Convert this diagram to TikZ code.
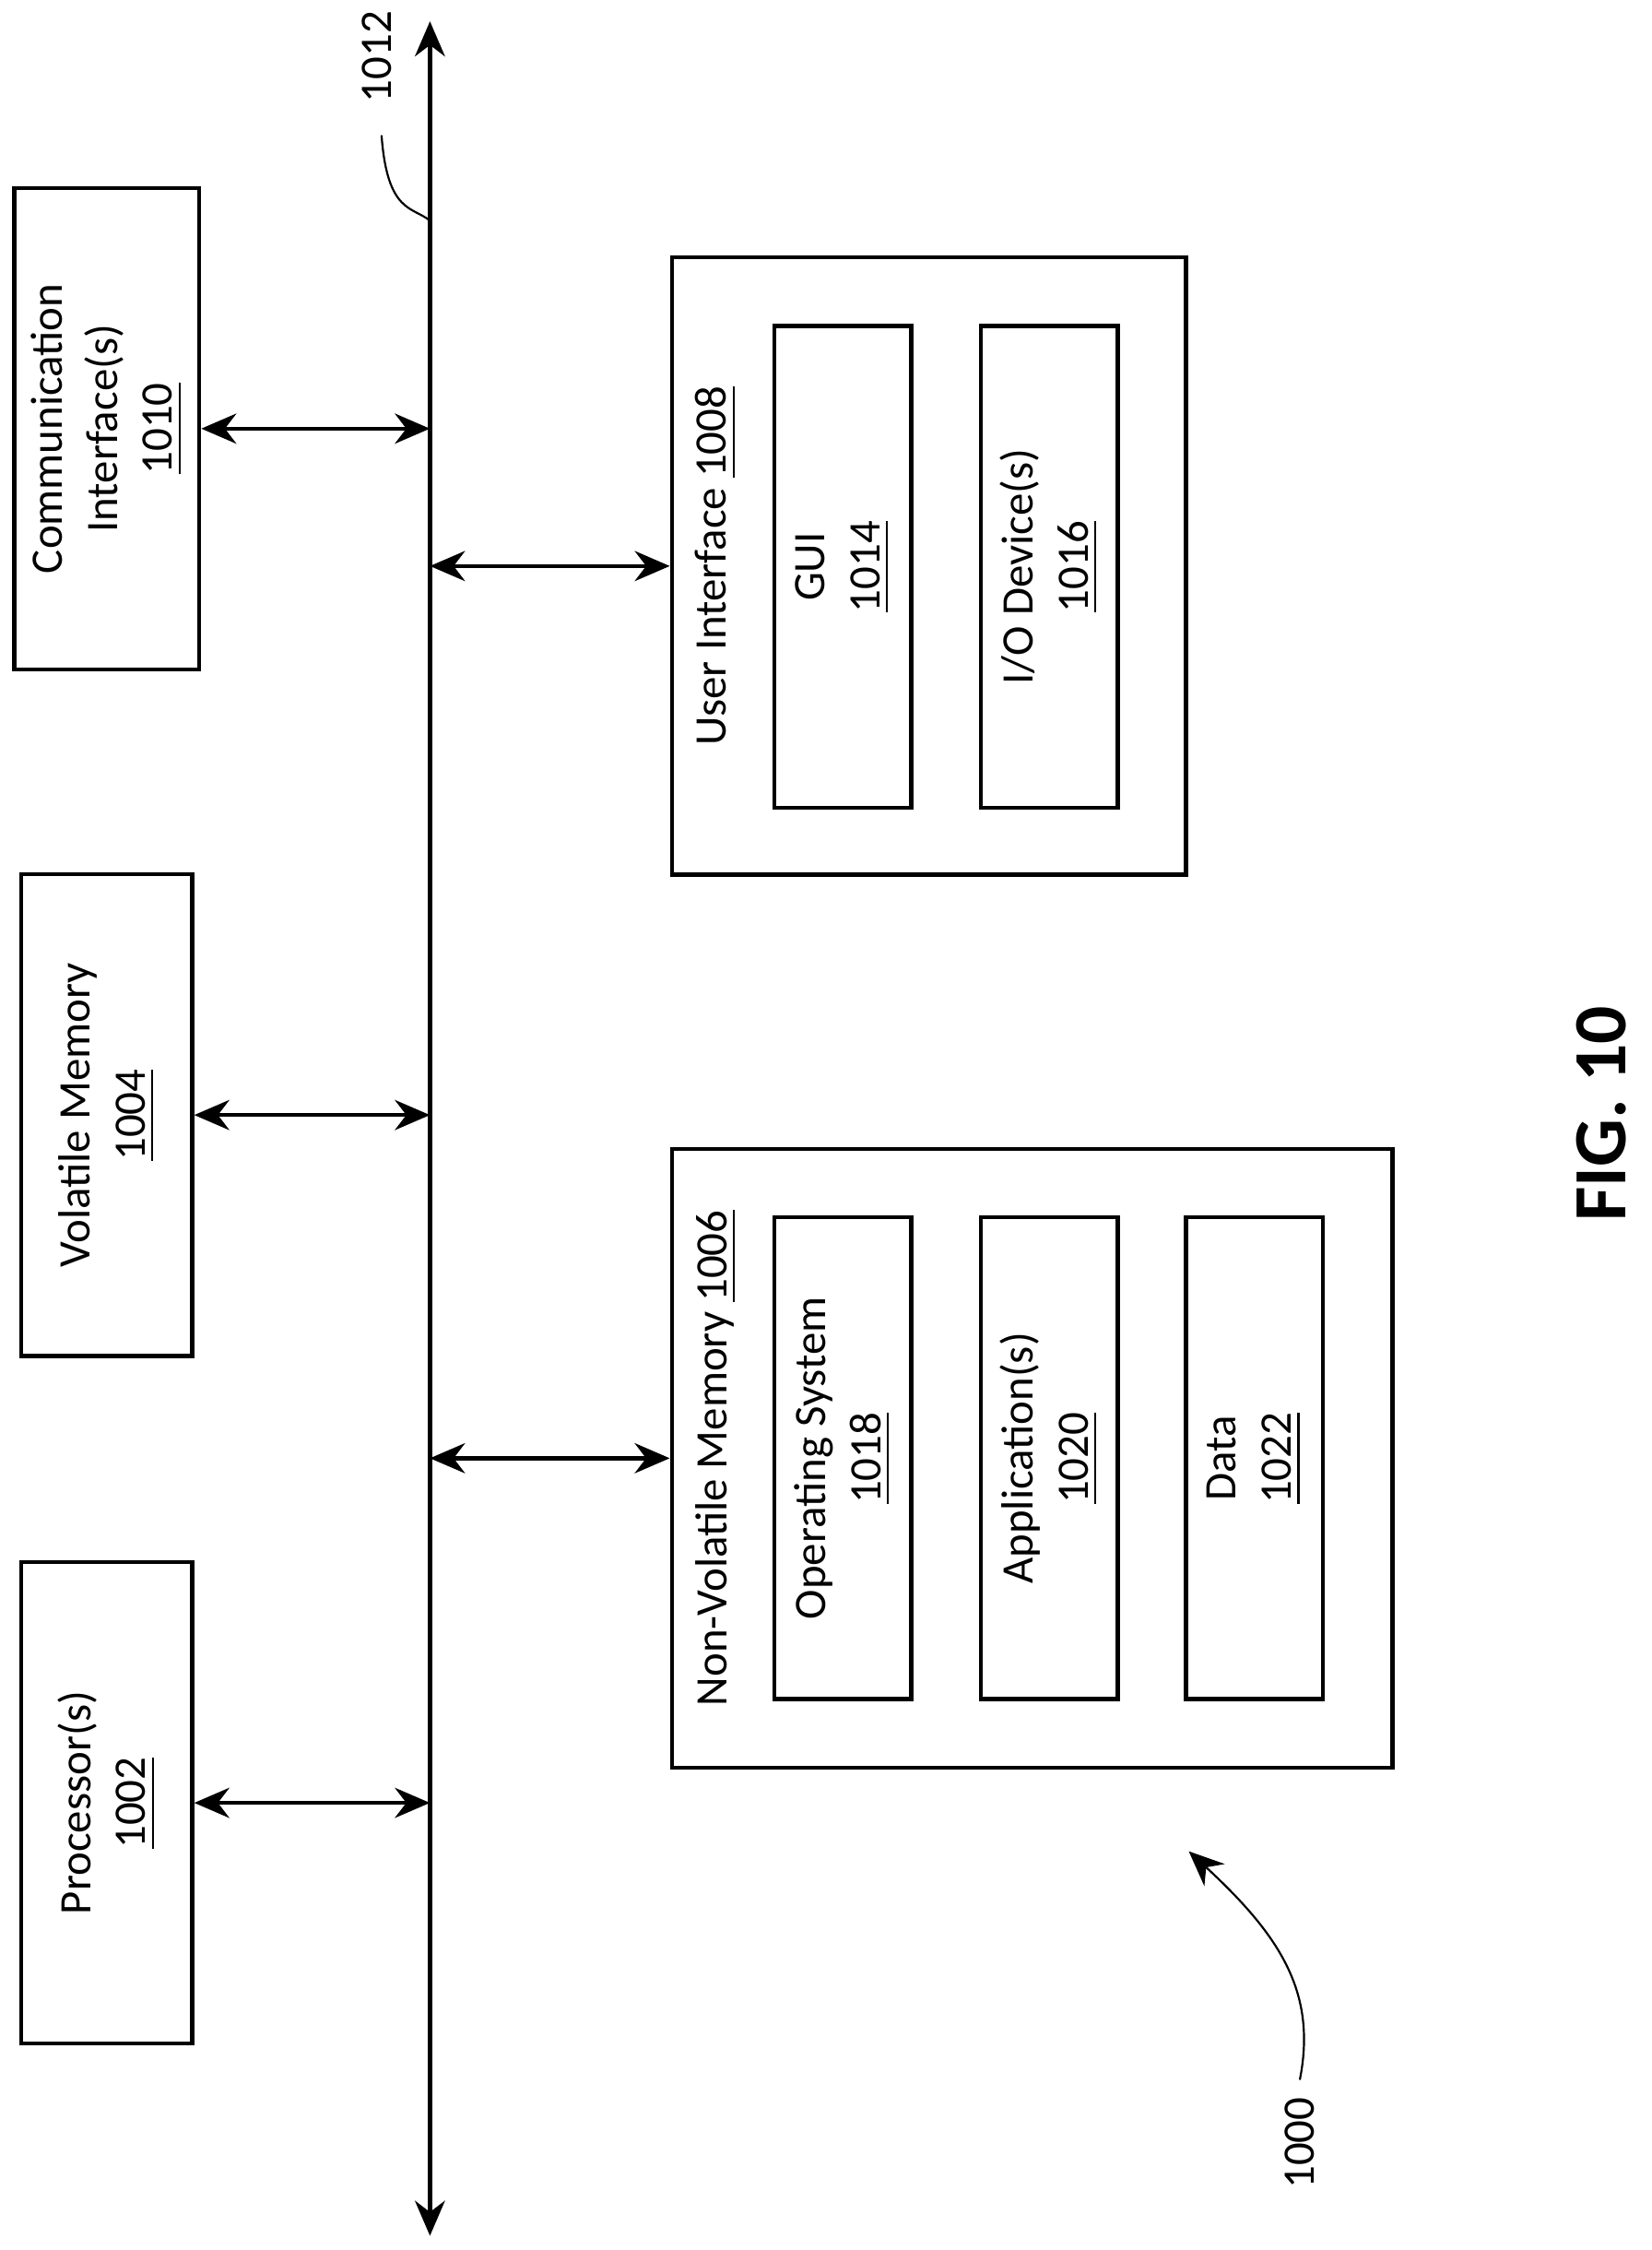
\documentclass[tikz,border=0pt]{standalone}
\usepackage{fontspec}
\setmainfont{Carlito}
\usetikzlibrary{arrows.meta}
\tikzset{
  box/.style={draw, thick, rotate=90, align=center, font=\fontsize{9}{11}\selectfont},
  link/.style={<->, >={Stealth[length=7pt,width=6pt]}, thick}
}
\begin{document}
\begin{tikzpicture}[x=0.01cm, y=-0.01cm]
\useasboundingbox (0,0) rectangle (1160,1580);
% bus
\coordinate (B1) at (302,15);
\coordinate (B2) at (302,1570);
\draw[link] (B1) -- (B2);
\node[rotate=90, font=\fontsize{9}{11}\selectfont] (L1012) at (265,40) {1012};
\draw[thin] (268,95) .. controls (272,150) and (290,145) .. (302,155);
% left column
\node[box, minimum width=3.38cm, minimum height=1.2cm] (P) at (75,1266) {Processor(s)\\\underline{1002}};
\node[box, minimum width=3.38cm, minimum height=1.2cm] (V) at (75,783) {Volatile Memory\\\underline{1004}};
\node[box, minimum width=3.38cm, minimum height=1.2cm] (C) at (75,301) {Communication\\Interface(s)\\\underline{1010}};
\draw[link] (P.south) -- (P.south -| B1);
\draw[link] (V.south) -- (V.south -| B1);
\draw[link] (C.south) -- (C.south -| B1);
% user interface
\node[box, minimum width=4.33cm, minimum height=3.61cm] (UI) at (652.5,397.5) {};
\node[rotate=90, font=\fontsize{9}{11}\selectfont] (UIl) at (503,397.5) {User Interface \underline{1008}};
\node[box, minimum width=3.38cm, minimum height=0.96cm] (GUI) at (592,398) {GUI\\\underline{1014}};
\node[box, minimum width=3.38cm, minimum height=0.96cm] (IO) at (737,398) {I/O Device(s)\\\underline{1016}};
\draw[link] (UI.north -| B1) -- (UI.north);
% non-volatile memory
\node[box, minimum width=4.34cm, minimum height=5.06cm] (NV) at (725,1024) {};
\node[rotate=90, font=\fontsize{9}{11}\selectfont] (NVl) at (503,1024) {Non-Volatile Memory \underline{1006}};
\node[box, minimum width=3.38cm, minimum height=0.96cm] (OS) at (592,1024) {Operating System\\\underline{1018}};
\node[box, minimum width=3.38cm, minimum height=0.96cm] (App) at (737,1024) {Application(s)\\\underline{1020}};
\node[box, minimum width=3.38cm, minimum height=0.96cm] (Dat) at (881,1024) {Data\\\underline{1022}};
\draw[link] (NV.north -| B1) -- (NV.north);
% figure label
\node[rotate=90, font=\fontsize{15}{18}\bfseries\selectfont] (Fig) at (1125,782) {FIG. 10};
\node[rotate=90, font=\fontsize{9}{11}\selectfont] (L1000) at (913,1505) {1000};
\coordinate (T1000) at (835,1300);
\draw[-{Stealth[length=7pt,width=6pt]}] (L1000.east) .. controls (925,1400) and (900,1360) .. (T1000);
\end{tikzpicture}
\end{document}
